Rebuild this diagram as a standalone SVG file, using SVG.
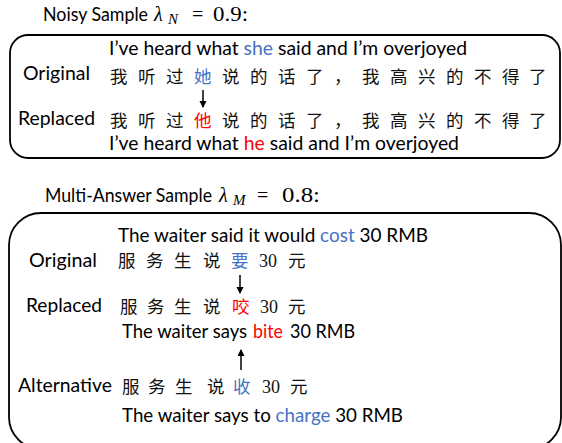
<svg xmlns="http://www.w3.org/2000/svg" width="562" height="443" viewBox="0 0 562 443">
<style>
.en{font-family:Lato,"Liberation Sans",sans-serif;font-size:19px;fill:#000}
.ttl{font-size:18.5px}
.zh{font-family:"Noto Sans CJK SC","Noto Sans CJK TC",sans-serif;font-size:17.5px;fill:#111}
.num{font-family:"Liberation Serif",serif;font-size:18px;fill:#111}
.math{font-family:"Liberation Serif",serif;font-size:20px;fill:#000}
.mi{font-style:italic}
.sub{font-size:15px}
.blue{fill:#4472C4}
.red{fill:#FF0000}
.box{fill:none;stroke:#000;stroke-width:1.8}
.arr{stroke:#000;stroke-width:1.5;fill:none}
</style>
<defs>
<marker id="ah" markerWidth="8" markerHeight="8" refX="6" refY="3.5" orient="auto" markerUnits="userSpaceOnUse">
<polygon points="0,0 7,3.5 0,7" fill="#000"/>
</marker>
</defs>

<g id="noisy-title">
<text class="en ttl" x="43" y="21" textLength="105" lengthAdjust="spacingAndGlyphs">Noisy Sample</text>
<text class="math mi" x="154" y="21">λ</text>
<text class="math mi sub" x="168" y="24">N</text>
<text class="math" x="192" y="21">=</text>
<text class="math" x="213" y="21" textLength="35" lengthAdjust="spacingAndGlyphs">0.9:</text>
</g>

<g id="noisy-box">
<rect class="box" x="10" y="35" width="550" height="123" rx="18" ry="18"/>
<text class="en" x="109" y="55" textLength="358" lengthAdjust="spacingAndGlyphs">I’ve heard what <tspan class="blue">she</tspan> said and I’m overjoyed</text>
<text class="en" x="23" y="80" textLength="67" lengthAdjust="spacingAndGlyphs">Original</text>
<text class="zh" y="82.5" x="110 138 166 194 222 250 278 306 334 362 390 418 446 474 502 529">我听过<tspan class="blue">她</tspan>说的话了，我高兴的不得了</text>
<text class="en" x="18" y="125" textLength="77" lengthAdjust="spacingAndGlyphs">Replaced</text>
<text class="zh" y="126.5" x="110 138 166 194 222 250 278 306 334 362 390 418 446 474 502 529">我听过<tspan class="red">他</tspan>说的话了，我高兴的不得了</text>
<text class="en" x="109" y="150" textLength="350" lengthAdjust="spacingAndGlyphs">I’ve heard what <tspan class="red">he</tspan> said and I’m overjoyed</text>
</g>

<g id="multi-title">
<text class="en ttl" x="45" y="202" textLength="167" lengthAdjust="spacingAndGlyphs">Multi-Answer Sample</text>
<text class="math mi" x="219" y="202">λ</text>
<text class="math mi sub" x="233" y="205">M</text>
<text class="math" x="257" y="202">=</text>
<text class="math" x="282" y="202" textLength="38" lengthAdjust="spacingAndGlyphs">0.8:</text>
</g>

<g id="multi-box">
<rect class="box" x="9" y="213" width="552" height="236" rx="32" ry="32"/>
<text class="en" x="118" y="242" textLength="310" lengthAdjust="spacingAndGlyphs">The waiter said it would <tspan class="blue">cost</tspan> 30 RMB</text>
<text class="en" x="29" y="267" textLength="68" lengthAdjust="spacingAndGlyphs">Original</text>
<text class="zh" y="267" x="118 146 174 203 231">服务生说<tspan class="blue">要</tspan></text>
<text class="num" x="259" y="267">30</text>
<text class="zh" x="288" y="267">元</text>

<text class="en" x="26" y="312" textLength="76" lengthAdjust="spacingAndGlyphs">Replaced</text>
<text class="zh" y="313" x="120 147 174 203 232">服务生说<tspan class="red">咬</tspan></text>
<text class="num" x="260" y="313">30</text>
<text class="zh" x="288" y="313">元</text>
<text class="en" x="122" y="338" textLength="125" lengthAdjust="spacingAndGlyphs">The waiter says</text>
<text class="en red" x="253" y="338" textLength="30" lengthAdjust="spacingAndGlyphs">bite</text>
<text class="en" x="290" y="338" textLength="65" lengthAdjust="spacingAndGlyphs">30 RMB</text>

<text class="en" x="18" y="392" textLength="94" lengthAdjust="spacingAndGlyphs">Alternative</text>
<text class="zh" y="393" x="122 148 175 207 233">服务生说<tspan class="blue">收</tspan></text>
<text class="num" x="262" y="393">30</text>
<text class="zh" x="290" y="393">元</text>
<text class="en" x="122" y="422" textLength="281" lengthAdjust="spacingAndGlyphs">The waiter says to <tspan class="blue">charge</tspan> 30 RMB</text>
</g>

<g id="connectors">
<line class="arr" x1="203" y1="90" x2="203" y2="107" marker-end="url(#ah)"/>
<line class="arr" x1="240" y1="275" x2="240" y2="293" marker-end="url(#ah)"/>
<line class="arr" x1="241" y1="370" x2="241" y2="350" marker-end="url(#ah)"/>
</g>
</svg>
